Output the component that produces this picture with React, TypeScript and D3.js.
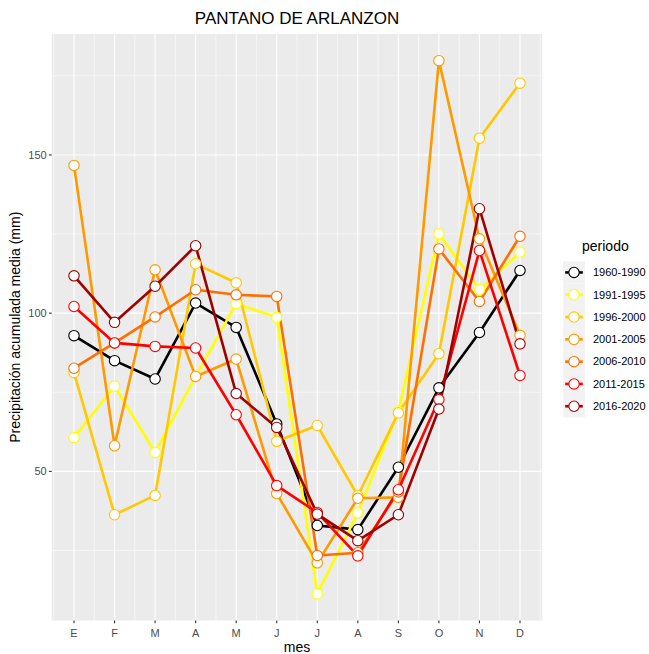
import React from "react";
import * as d3 from "d3";

const months = ["E", "F", "M", "A", "M", "J", "J", "A", "S", "O", "N", "D"];
const periods = ["1960-1990", "1991-1995", "1996-2000", "2001-2005", "2006-2010", "2011-2015", "2016-2020"];
const colors = ["#000000", "#FFFF00", "#FFC800", "#FF9900", "#FF6E00", "#FF0000", "#A00000"];

const v1960_1990 = [92.9, 85.0, 79.2, 103.2, 95.5, 65.0, 32.9, 31.6, 51.3, 76.4, 93.9, 113.5];
const v1991_1995 = [60.7, 76.9, 56.0, 80.0, 103.0, 98.7, 11.3, 36.9, 69.0, 125.1, 107.4, 119.3];
const v1996_2000 = [81.2, 36.3, 42.4, 115.6, 109.6, 59.5, 64.5, 42.3, 68.5, 87.2, 155.3, 172.7];
const v2001_2005 = [146.7, 58.1, 113.7, 80.0, 85.5, 43.0, 21.1, 41.5, 41.8, 179.8, 123.5, 93.0];
const v2006_2010 = [82.6, 90.6, 98.8, 107.4, 105.8, 105.3, 23.4, 24.3, 43.5, 120.3, 103.7, 124.3];
const v2011_2015 = [102.1, 90.6, 89.5, 89.0, 67.9, 45.5, 37.0, 23.3, 44.2, 72.7, 119.8, 80.3];
const v2016_2020 = [111.8, 97.1, 108.5, 121.3, 74.6, 63.9, 36.5, 28.1, 36.3, 69.7, 133.0, 90.3];

const seriesValues = [v1960_1990, v1991_1995, v1996_2000, v2001_2005, v2006_2010, v2011_2015, v2016_2020];

const yMajor = [50, 100, 150];
const yMinor = [25, 75, 125, 175];

const FONT = "'Liberation Sans', Arial, Helvetica, sans-serif";

export default function App() {
  const W = 649, H = 654;
  const left = 51.7, right = 542.3, top = 34, bottom = 620.5;
  const x = d3.scaleLinear().domain([0.45, 12.55]).range([left, right]);
  const all = seriesValues.flat();
  const mn = d3.min(all) as number, mx = d3.max(all) as number;
  const r = mx - mn;
  const y = d3.scaleLinear().domain([mn - 0.05 * r, mx + 0.05 * r]).range([bottom, top]);
  const line = d3.line<number>().x((_, i) => x(i + 1)).y((d) => y(d));
  const xMinor = d3.range(0.5, 13, 1);
  const keyTop = 261.3;
  const keyH = 22.3;
  const keyX = 563.2, keyW = 21.6;

  return (
    <svg width={W} height={H} style={{ position: "absolute", left: 0, top: 0, background: "#fff" }}>
      <rect x={0} y={0} width={W} height={H} fill="#fff" />
      <text x={(left + right) / 2} y={24} textAnchor="middle" fontFamily={FONT} fontSize={17} fill="#000">
        PANTANO DE ARLANZON
      </text>
      <rect x={left} y={top} width={right - left} height={bottom - top} fill="#EBEBEB" />
      {yMinor.map((v) => (
        <line key={"ym" + v} x1={left} x2={right} y1={y(v)} y2={y(v)} stroke="#fff" strokeWidth={0.55} />
      ))}
      {xMinor.map((v) => (
        <line key={"xm" + v} x1={x(v)} x2={x(v)} y1={top} y2={bottom} stroke="#fff" strokeWidth={0.55} />
      ))}
      {yMajor.map((v) => (
        <line key={"yM" + v} x1={left} x2={right} y1={y(v)} y2={y(v)} stroke="#fff" strokeWidth={1.1} />
      ))}
      {months.map((m, i) => (
        <line key={"xM" + i} x1={x(i + 1)} x2={x(i + 1)} y1={top} y2={bottom} stroke="#fff" strokeWidth={1.1} />
      ))}
      {seriesValues.map((vals, s) => (
        <path key={"l" + s} d={line(vals) || ""} fill="none" stroke={colors[s]} strokeWidth={2.6} strokeLinejoin="round" strokeLinecap="butt" />
      ))}
      {seriesValues.map((vals, s) => (
        <g key={"p" + s}>
          {vals.map((v, i) => (
            <circle key={i} cx={x(i + 1)} cy={y(v)} r={5.2} fill="#fff" stroke={colors[s]} strokeWidth={1.1} />
          ))}
        </g>
      ))}
      {yMajor.map((v) => (
        <g key={"yt" + v}>
          <line x1={left - 2.8} x2={left} y1={y(v)} y2={y(v)} stroke="#333" strokeWidth={1.1} />
          <text x={left - 5} y={y(v) + 3.8} textAnchor="end" fontFamily={FONT} fontSize={11} fill="#4D4D4D">
            {v}
          </text>
        </g>
      ))}
      {months.map((m, i) => (
        <g key={"xt" + i}>
          <line x1={x(i + 1)} x2={x(i + 1)} y1={bottom} y2={bottom + 2.8} stroke="#333" strokeWidth={1.1} />
          <text x={x(i + 1)} y={636.5} textAnchor="middle" fontFamily={FONT} fontSize={11} fill="#4D4D4D">
            {m}
          </text>
        </g>
      ))}
      <text x={(left + right) / 2} y={652} textAnchor="middle" fontFamily={FONT} fontSize={14} fill="#000">
        mes
      </text>
      <text
        transform={`translate(19.5, ${(top + bottom) / 2}) rotate(-90)`}
        textAnchor="middle"
        fontFamily={FONT}
        fontSize={14}
        fill="#000"
      >
        Precipitación acumulada media (mm)
      </text>
      <text x={582} y={251} fontFamily={FONT} fontSize={14} fill="#000">
        periodo
      </text>
      {periods.map((p, s) => {
        const cy = keyTop + keyH * s + keyH / 2;
        return (
          <g key={"lg" + s}>
            <rect x={keyX} y={keyTop + keyH * s} width={keyW} height={keyH} fill="#F2F2F2" />
            <line x1={keyX + 2} x2={keyX + keyW - 2} y1={cy} y2={cy} stroke={colors[s]} strokeWidth={2.6} />
            <circle cx={keyX + keyW / 2} cy={cy} r={5.2} fill="#fff" stroke={colors[s]} strokeWidth={1.1} />
            <text x={593} y={cy + 3.8} fontFamily={FONT} fontSize={11} fill="#000">
              {p}
            </text>
          </g>
        );
      })}
    </svg>
  );
}
